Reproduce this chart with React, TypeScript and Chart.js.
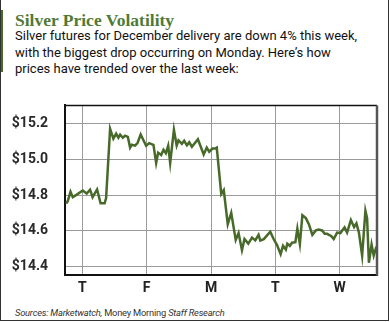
import React, { useEffect, useRef } from "react";
import { Chart, registerables } from "chart.js";

Chart.register(...registerables);

// Trading days shown on the x axis (T = Thursday, F, M, T, W)
const dayLabels = ["T", "F", "M", "T", "W"];
const dayPositions = [0, 1, 2, 3, 4];
const priceTicks = [14.4, 14.6, 14.8, 15.0, 15.2];

// time in trading days (0 = first "T" gridline)
const timeDays = [
  -0.254, -0.23, -0.184, -0.149, -0.087, 0.006, 0.068, 0.12, 0.159, 0.229,
  0.283, 0.346, 0.369, 0.431, 0.482, 0.525, 0.56, 0.587, 0.629, 0.665,
  0.707, 0.742, 0.769, 0.82, 0.859, 0.906, 0.991, 1.038, 1.105, 1.147,
  1.178, 1.225, 1.261, 1.298, 1.334, 1.365, 1.423, 1.466, 1.494, 1.547,
  1.583, 1.625, 1.661, 1.703, 1.796, 1.886, 1.933, 1.972, 2.023, 2.065,
  2.089, 2.159, 2.198, 2.26, 2.314, 2.384, 2.428, 2.481, 2.52, 2.579,
  2.637, 2.688, 2.739, 2.766, 2.82, 2.921, 2.973, 3.026, 3.082, 3.119,
  3.163, 3.186, 3.225, 3.259, 3.311, 3.342, 3.381, 3.42, 3.474, 3.521,
  3.575, 3.63, 3.673, 3.726, 3.767, 3.804, 3.871, 3.907, 3.96, 4.011,
  4.076, 4.115, 4.174, 4.224, 4.26, 4.299, 4.349, 4.4, 4.426, 4.454,
  4.496, 4.529, 4.571,
];

// silver futures price, $/oz
const prices = [
  14.754, 14.764, 14.819, 14.789, 14.803, 14.826, 14.809, 14.831, 14.789, 14.832,
  14.755, 14.755, 14.784, 15.171, 15.116, 15.144, 15.121, 15.138, 15.121, 15.133,
  15.126, 15.066, 15.082, 15.077, 15.093, 15.139, 15.076, 15.091, 15.081, 14.98,
  15.038, 15.025, 15.054, 15.035, 15.076, 14.98, 15.166, 15.078, 15.107, 15.087,
  15.104, 15.079, 15.096, 15.071, 15.113, 15.028, 15.066, 15.043, 15.061, 15.061,
  15.066, 14.806, 14.828, 14.638, 14.701, 14.55, 14.588, 14.492, 14.555, 14.529,
  14.563, 14.547, 14.578, 14.546, 14.554, 14.596, 14.555, 14.521, 14.47, 14.517,
  14.496, 14.529, 14.517, 14.534, 14.537, 14.613, 14.527, 14.688, 14.672, 14.638,
  14.578, 14.603, 14.608, 14.603, 14.584, 14.584, 14.571, 14.555, 14.591, 14.588,
  14.62, 14.591, 14.661, 14.621, 14.642, 14.591, 14.462, 14.713, 14.672, 14.422,
  14.524, 14.462, 14.512,
];

const LINE_GREEN = "#476a2a";
const TITLE_GREEN = "#4f7a35";

export default function App() {
  const ref = useRef<HTMLCanvasElement>(null);

  useEffect(() => {
    document.body.style.margin = "0";
    const framePlugin = {
      id: "frame",
      afterDraw(chart: any) {
        const { ctx, chartArea: a } = chart;
        ctx.save();
        ctx.strokeStyle = "#111";
        ctx.lineWidth = 1.5;
        ctx.beginPath();
        ctx.moveTo(a.left, a.top);
        ctx.lineTo(a.right, a.top);
        ctx.stroke();
        ctx.strokeStyle = "#555";
        ctx.lineWidth = 2.5;
        ctx.beginPath();
        ctx.moveTo(a.right, a.top);
        ctx.lineTo(a.right, a.bottom + 1);
        ctx.stroke();
        ctx.restore();
      },
    };
    const tickFont = { family: "Roboto, 'Noto Sans', sans-serif", size: 14, weight: "bold" as const };
    const chart = new Chart(ref.current as HTMLCanvasElement, {
      type: "line",
      data: {
        datasets: [
          {
            data: timeDays.map((d, i) => ({ x: d, y: prices[i] })),
            borderColor: LINE_GREEN,
            borderWidth: 2.5,
            pointRadius: 0,
            tension: 0,
            fill: false,
          },
        ],
      },
      options: {
        animation: false,
        responsive: false,
        layout: { padding: { top: 8, right: 13, left: 0, bottom: 0 } },
        plugins: { legend: { display: false }, tooltip: { enabled: false } },
        scales: {
          x: {
            type: "linear",
            min: -0.27,
            max: 4.58,
            afterBuildTicks: (s: any) => {
              s.ticks = dayPositions.map((v) => ({ value: v }));
            },
            afterFit: (s: any) => {
              s.height = 24;
            },
            ticks: {
              callback: (_v: any, i: number) => dayLabels[i],
              padding: 5,
              font: tickFont,
              color: "#222",
              maxRotation: 0,
              autoSkip: false,
            },
            grid: { color: "#9a9a9a", lineWidth: 1, drawTicks: false },
            border: { color: "#111", width: 2 },
          },
          y: {
            type: "linear",
            min: 14.356,
            max: 15.302,
            afterBuildTicks: (s: any) => {
              s.ticks = priceTicks.map((v) => ({ value: v }));
            },
            afterFit: (s: any) => {
              s.width = 65;
            },
            ticks: {
              callback: (v: any) => "$" + Number(v).toFixed(1),
              padding: 17,
              font: tickFont,
              color: "#2a2a2a",
            },
            grid: { color: "#9a9a9a", lineWidth: 1, drawTicks: false },
            border: { color: "#111", width: 2 },
          },
        },
      },
      plugins: [framePlugin],
    });
    return () => chart.destroy();
  }, []);

  return (
    <div style={{ position: "relative", width: 390, height: 322, background: "#fff", overflow: "hidden" }}>
      <div style={{ position: "absolute", left: 0, top: 10, width: 3, height: 62, background: LINE_GREEN }} />
      <div
        style={{
          position: "absolute",
          left: 15,
          top: 11,
          fontFamily: "'Liberation Serif', 'DejaVu Serif', serif",
          fontWeight: "bold",
          fontSize: 17.5,
          lineHeight: "18px",
          color: TITLE_GREEN,
          whiteSpace: "nowrap",
        }}
      >
        Silver Price Volatility
      </div>
      <div
        style={{
          position: "absolute",
          left: 15,
          top: 28,
          fontFamily: "Roboto, 'Noto Sans', sans-serif",
          fontSize: 13,
          lineHeight: "16.7px",
          color: "#111",
          whiteSpace: "nowrap",
        }}
      >
        Silver futures for December delivery are down 4% this week,
        <br />
        with the biggest drop occurring on Monday. Here’s how
        <br />
        prices have trended over the last week:
      </div>
      <canvas
        ref={ref}
        width={390}
        height={220}
        style={{ position: "absolute", left: 0, top: 80, width: 390, height: 220, display: "block" }}
      />
      <div
        style={{
          position: "absolute",
          left: 15,
          top: 306,
          fontFamily: "Roboto, 'Noto Sans', sans-serif",
          fontSize: 9.3,
          letterSpacing: "-0.2px",
          lineHeight: "14px",
          color: "#333",
          whiteSpace: "nowrap",
        }}
      >
        <i>Sources: Marketwatch,</i> Money Morning <i>Staff Research</i>
      </div>
      <div
        style={{
          position: "absolute",
          left: 0,
          top: 0,
          width: 389,
          height: 321,
          boxSizing: "border-box",
          borderLeft: "1px solid #333",
          borderRight: "1px solid #333",
          borderBottom: "1px solid #333",
          pointerEvents: "none",
        }}
      />
    </div>
  );
}
